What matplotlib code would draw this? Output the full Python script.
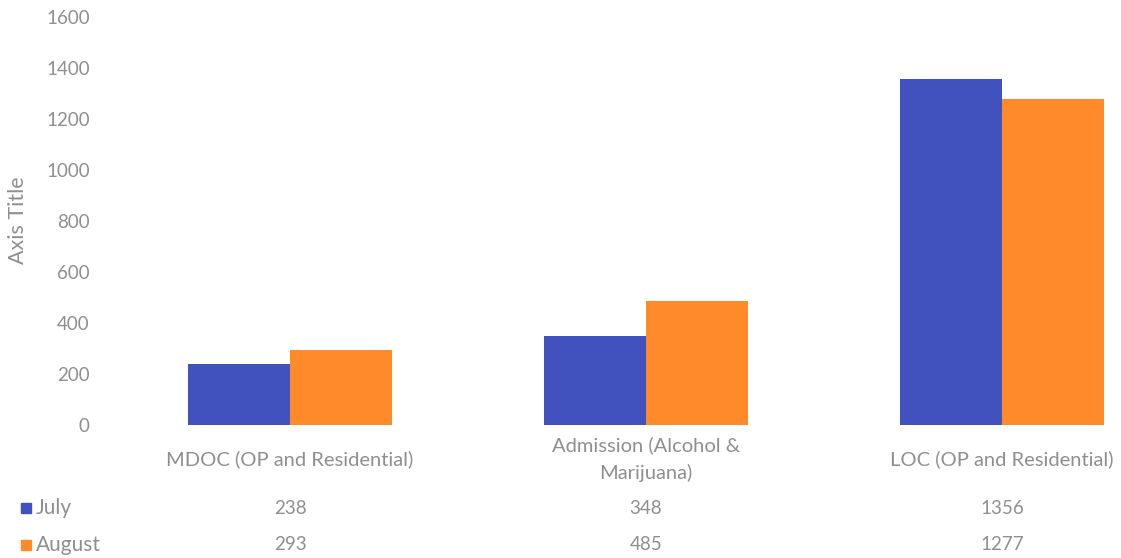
import numpy as np
import matplotlib
matplotlib.use('Agg')
import matplotlib.pyplot as plt
from matplotlib.patches import Rectangle
from matplotlib.transforms import blended_transform_factory

# grouped bars with an excel-style data table under the axis
categories = ["MDOC (OP and Residential)", "Admission (Alcohol &\nMarijuana)", "LOC (OP and Residential)"]
series = ["July", "August"]
july = [238, 348, 1356]
august = [293, 485, 1277]
yticks = [0, 200, 400, 600, 800, 1000, 1200, 1400, 1600]

blue = "#4152BE"
orange = "#FF8A2A"
gray = "#8F8F8F"
plt.rcParams['font.family'] = ['Lato', 'DejaVu Sans']

W, H = 1121, 558
fig = plt.figure(figsize=(W / 100, H / 100), dpi=100)
ax = fig.add_axes([112 / W, 1 - 425 / H, (W - 112) / W, (425 - 17) / H])

x = np.arange(len(categories))
w = 0.287
ax.bar(x - w / 2, july, w, color=blue, label=series[0])
ax.bar(x + w / 2, august, w, color=orange, label=series[1])

ax.set_xlim(-0.5, (W - 290) / 356)
ax.set_ylim(0, 1600)
ax.set_yticks(yticks)
ax.tick_params(axis='y', length=0, pad=16, labelsize=13.5, labelcolor=gray)
ax.set_xticks([])
for s in ax.spines.values():
    s.set_visible(False)

fig.text(18 / W, 1 - 220 / H, "Axis Title", rotation=90, ha='center', va='center',
         fontsize=15.5, color=gray)

# category labels and table rows
tr = blended_transform_factory(ax.transData, fig.transFigure)
for i, c in enumerate(categories):
    ax.text(x[i], 1 - 459 / H, c, transform=tr, ha='center', va='center',
            fontsize=14.5, color=gray, linespacing=1.6)
rows = [(series[0], july, blue, 508), (series[1], august, orange, 545)]
for name, vals, col, yp in rows:
    fig.patches.append(Rectangle((21 / W, 1 - (yp + 5) / H), 10 / W, 10 / H,
                                 transform=fig.transFigure, color=col))
    fig.text(36 / W, 1 - yp / H, name, ha='left', va='center', fontsize=15, color=gray)
    for i, v in enumerate(vals):
        ax.text(x[i], 1 - yp / H, str(v), transform=tr, ha='center', va='center',
                fontsize=13.5, color=gray)

fig.savefig("out.png", dpi=100)
